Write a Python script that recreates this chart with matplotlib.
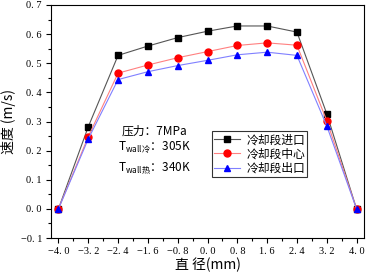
import numpy as np
import matplotlib
matplotlib.use("Agg")
import matplotlib.pyplot as plt
from matplotlib.ticker import MultipleLocator, AutoMinorLocator

plt.rcParams['font.family'] = ['Noto Sans CJK SC', 'DejaVu Sans']
plt.rcParams['mathtext.fontset'] = 'custom'
plt.rcParams['mathtext.rm'] = 'Noto Sans CJK SC'

# radial position (mm)
x = [-4.0, -3.2, -2.4, -1.6, -0.8, 0.0, 0.8, 1.6, 2.4, 3.2, 4.0]
inlet = [0.0, 0.282, 0.527, 0.559, 0.588, 0.610, 0.628, 0.628, 0.607, 0.327, 0.0]
center = [0.0, 0.248, 0.466, 0.494, 0.519, 0.540, 0.561, 0.570, 0.562, 0.303, 0.0]
outlet = [0.0, 0.240, 0.444, 0.471, 0.492, 0.510, 0.529, 0.538, 0.527, 0.285, 0.0]
names = ['冷却段进口', '冷却段中心', '冷却段出口']
xticks = [-4.0, -3.2, -2.4, -1.6, -0.8, 0.0, 0.8, 1.6, 2.4, 3.2, 4.0]

fig = plt.figure(figsize=(3.71, 2.77), dpi=100)
ax = fig.add_axes([51 / 371, 39 / 277, 313 / 371, 233 / 277])

num_font = 'Liberation Serif'

ax.plot(x, inlet, color='#555555', lw=0.8, marker='s', ms=4.5,
        mfc='black', mec='black', label=names[0])
ax.plot(x, center, color='#ff8080', lw=0.8, marker='o', ms=5,
        mfc='red', mec='red', label=names[1])
ax.plot(x, outlet, color='#8080ff', lw=0.8, marker='^', ms=5,
        mfc='blue', mec='blue', label=names[2])


def fmt(v, p=None):
    return f'{v:.1f}'.replace('.', '. ').replace('-', '\u2212')


ax.set_xlim(-4.2, 4.2)
ax.set_ylim(-0.1, 0.7)
ax.set_xticks(xticks)
ax.xaxis.set_major_formatter(plt.FuncFormatter(fmt))
ax.yaxis.set_major_locator(MultipleLocator(0.1))
ax.yaxis.set_major_formatter(plt.FuncFormatter(fmt))
ax.xaxis.set_minor_locator(AutoMinorLocator(2))
ax.yaxis.set_minor_locator(AutoMinorLocator(2))
ax.tick_params(which='major', direction='out', length=3.5, width=0.8,
               labelsize=7.5, pad=3, labelfontfamily=num_font)
ax.tick_params(which='minor', direction='out', length=2, width=0.8)

ax.set_xlabel('直 径(mm)', fontsize=10, labelpad=1)
ax.set_ylabel('速度 (m/s)', fontsize=10, labelpad=3)

ax.text(-2.3, 0.266, '压力：7MPa', fontsize=8.5, va='center')
ax.text(-2.4, 0.213, r'T$_{\mathregular{wall冷}}$：305K', fontsize=8.5, va='center')
ax.text(-2.4, 0.137, r'T$_{\mathregular{wall热}}$：340K', fontsize=8.5, va='center')

leg = ax.legend(loc='upper left', bbox_to_anchor=(161 / 313, 107 / 233),
                fontsize=8.5, frameon=True, fancybox=False, edgecolor='black',
                handlelength=2.2, handletextpad=0.5, borderpad=0.2,
                labelspacing=0.1, borderaxespad=0)
leg.get_frame().set_linewidth(0.8)

fig.savefig('out.png', dpi=100)
